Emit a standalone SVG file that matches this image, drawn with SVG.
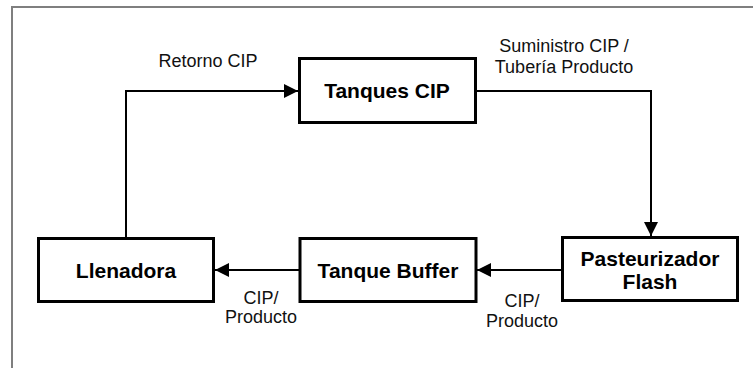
<svg xmlns="http://www.w3.org/2000/svg" width="753" height="368" viewBox="0 0 753 368">
<style>
.frame{fill:none;stroke:#7f7f7f;stroke-width:2}
.box{fill:#fff;stroke:#000;stroke-width:3}
.conn{fill:none;stroke:#000;stroke-width:2}
.bt{font-family:"Liberation Sans",Arial,sans-serif;font-weight:bold;font-size:21px;fill:#000;text-anchor:middle}
.lt{font-family:"Liberation Sans",Arial,sans-serif;font-size:18px;fill:#111;text-anchor:middle}
</style>
<defs>
<marker id="ah" viewBox="0 0 14 14" refX="14" refY="7" markerWidth="14" markerHeight="14" markerUnits="userSpaceOnUse" orient="auto">
<path d="M0,0 L14,7 L0,14 z" fill="#000"/>
</marker>
</defs>
<rect width="753" height="368" fill="#fff"/>
<path class="frame" d="M12,368 V7 H753"/>
<g id="connectors">
<path class="conn" d="M126,237 V91 H298" marker-end="url(#ah)"/>
<path class="conn" d="M477,91 H651 V236" marker-end="url(#ah)"/>
<path class="conn" d="M561,270 H477" marker-end="url(#ah)"/>
<path class="conn" d="M299,270 H215" marker-end="url(#ah)"/>
<text class="lt" x="208" y="67">Retorno CIP</text>
<text class="lt" x="564" y="52">Suministro CIP /</text>
<text class="lt" x="564" y="73">Tubería Producto</text>
<text class="lt" x="261" y="304">CIP/</text>
<text class="lt" x="261" y="323">Producto</text>
<text class="lt" x="522" y="307">CIP/</text>
<text class="lt" x="522" y="327">Producto</text>
</g>
<g id="tanques-cip">
<rect class="box" x="299.5" y="58.5" width="176" height="64"/>
<text class="bt" x="387" y="98">Tanques CIP</text>
</g>
<g id="llenadora">
<rect class="box" x="38.5" y="238.5" width="175" height="63"/>
<text class="bt" x="126" y="278">Llenadora</text>
</g>
<g id="tanque-buffer">
<rect class="box" x="300" y="238.5" width="176" height="63"/>
<text class="bt" x="388" y="278">Tanque Buffer</text>
</g>
<g id="pasteurizador">
<rect class="box" x="562.5" y="237.5" width="175" height="63"/>
<text class="bt" x="650" y="266">Pasteurizador</text>
<text class="bt" x="650" y="289">Flash</text>
</g>
</svg>
